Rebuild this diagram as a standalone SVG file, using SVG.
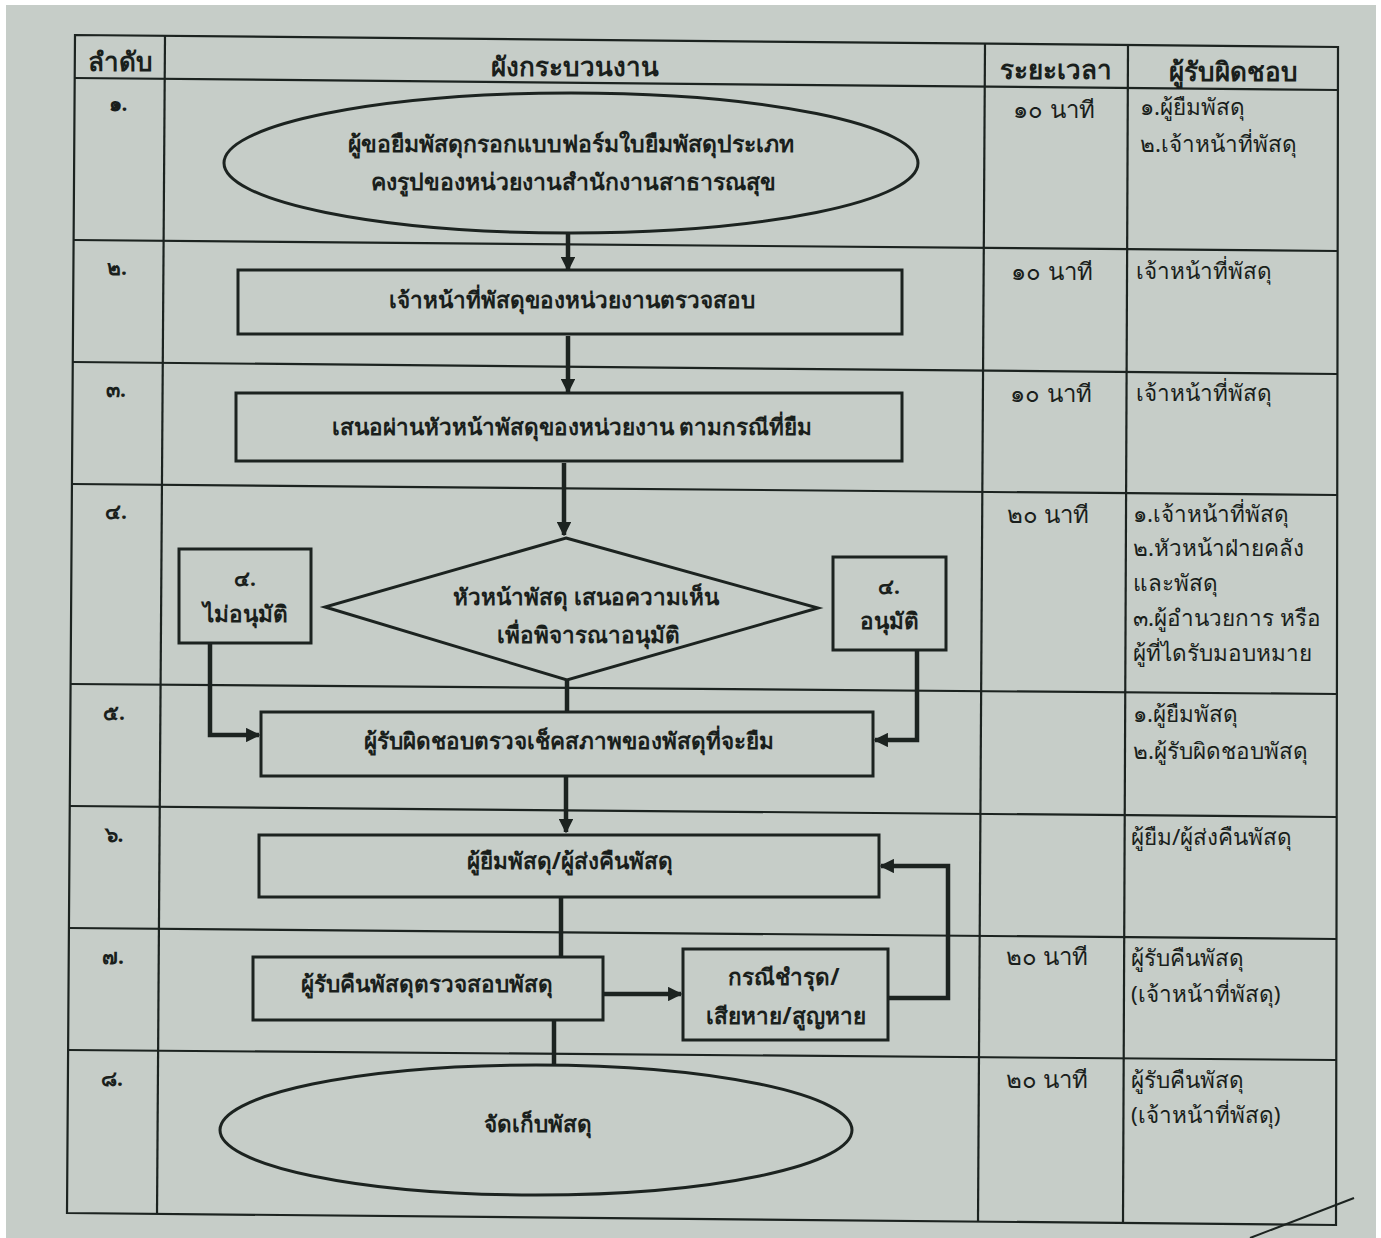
<svg xmlns="http://www.w3.org/2000/svg" width="1381" height="1238" viewBox="0 0 1381 1238">
<defs>
<style>
.tl{stroke:#1c2320;stroke-width:2.2;fill:none}
.bx{fill:none;stroke:#1c2320;stroke-width:3}
.cn{fill:none;stroke:#1c2320;stroke-width:4.5}
.t{font-family:"Noto Sans","DejaVu Sans",sans-serif;fill:#1a1f1c;font-weight:bold;font-size:22.5px;text-anchor:middle}
.te{font-family:"Noto Sans","DejaVu Sans",sans-serif;fill:#1a1f1c;font-weight:bold;font-size:23px;text-anchor:middle}
.h{font-family:"Noto Sans","DejaVu Sans",sans-serif;fill:#1a1f1c;font-weight:bold;font-size:26px;text-anchor:middle}
.n{font-family:"Noto Sans","DejaVu Sans",sans-serif;fill:#1a1f1c;font-weight:bold;font-size:21px;text-anchor:middle}
.r{font-family:"Noto Sans","DejaVu Sans",sans-serif;fill:#1a1f1c;font-size:22.5px}
.m{font-family:"Noto Sans","DejaVu Sans",sans-serif;fill:#1a1f1c;font-size:24px;text-anchor:middle}
</style>
<marker id="ah" viewBox="0 0 10 10" refX="9" refY="5" markerWidth="3.2" markerHeight="3.2" orient="auto" markerUnits="strokeWidth">
<path d="M0,0 L10,5 L0,10 z" fill="#1c2320"/>
</marker>
</defs>
<rect x="0" y="0" width="1381" height="1238" fill="#ffffff"/>
<rect x="6" y="5" width="1370" height="1233" fill="#c6cdc8"/>

<g id="table">
<polygon class="tl" points="75,35 1338,47 1336,1225 67,1213"/>
<line class="tl" x1="165" y1="36" x2="157" y2="1214"/>
<line class="tl" x1="985" y1="44" x2="978" y2="1221"/>
<line class="tl" x1="1128" y1="46" x2="1123" y2="1223"/>
<line class="tl" x1="75" y1="78" x2="1338" y2="90"/>
<line class="tl" x1="74" y1="240" x2="1338" y2="251"/>
<line class="tl" x1="73" y1="362" x2="1338" y2="374"/>
<line class="tl" x1="72" y1="484" x2="1337" y2="495"/>
<line class="tl" x1="71" y1="684" x2="1337" y2="694"/>
<line class="tl" x1="70" y1="806" x2="1337" y2="817"/>
<line class="tl" x1="69" y1="928" x2="1337" y2="939"/>
<line class="tl" x1="68" y1="1050" x2="1336" y2="1060"/>
<text class="h" x="120" y="71">ลำดับ</text>
<text class="h" x="575" y="76">ผังกระบวนงาน</text>
<text class="h" x="1056" y="79">ระยะเวลา</text>
<text class="h" x="1233" y="81">ผู้รับผิดชอบ</text>
<text class="n" x="118" y="111">๑.</text>
<text class="n" x="117" y="275">๒.</text>
<text class="n" x="116" y="397">๓.</text>
<text class="n" x="116" y="519">๔.</text>
<text class="n" x="114" y="720">๕.</text>
<text class="n" x="114" y="842">๖.</text>
<text class="n" x="113" y="964">๗.</text>
<text class="n" x="112" y="1086">๘.</text>
<text class="m" x="1054" y="118">๑๐ นาที</text>
<text class="m" x="1052" y="280">๑๐ นาที</text>
<text class="m" x="1051" y="402">๑๐ นาที</text>
<text class="m" x="1048" y="523">๒๐ นาที</text>
<text class="m" x="1047" y="965">๒๐ นาที</text>
<text class="m" x="1047" y="1088">๒๐ นาที</text>
<text class="r" x="1140" y="115">๑.ผู้ยืมพัสดุ</text>
<text class="r" x="1140" y="152">๒.เจ้าหน้าที่พัสดุ</text>
<text class="r" x="1136" y="279">เจ้าหน้าที่พัสดุ</text>
<text class="r" x="1136" y="401">เจ้าหน้าที่พัสดุ</text>
<text class="r" x="1133" y="522">๑.เจ้าหน้าที่พัสดุ</text>
<text class="r" x="1133" y="556">๒.หัวหน้าฝ่ายคลัง</text>
<text class="r" x="1133" y="591">และพัสดุ</text>
<text class="r" x="1133" y="626">๓.ผู้อำนวยการ หรือ</text>
<text class="r" x="1133" y="661">ผู้ที่ไดรับมอบหมาย</text>
<text class="r" x="1133" y="722">๑.ผู้ยืมพัสดุ</text>
<text class="r" x="1133" y="759">๒.ผู้รับผิดชอบพัสดุ</text>
<text class="r" x="1131" y="845">ผู้ยืม/ผู้ส่งคืนพัสดุ</text>
<text class="r" x="1131" y="966">ผู้รับคืนพัสดุ</text>
<text class="r" x="1131" y="1002">(เจ้าหน้าที่พัสดุ)</text>
<text class="r" x="1131" y="1088">ผู้รับคืนพัสดุ</text>
<text class="r" x="1131" y="1123">(เจ้าหน้าที่พัสดุ)</text>
<line x1="1250" y1="1238" x2="1354" y2="1198" stroke="#1c2320" stroke-width="2"/>
</g>

<g id="connectors">
<line class="cn" x1="568" y1="233" x2="568" y2="270" marker-end="url(#ah)"/>
<line class="cn" x1="568" y1="336" x2="568" y2="392" marker-end="url(#ah)"/>
<line class="cn" x1="564" y1="463" x2="564" y2="535" marker-end="url(#ah)"/>
<line class="cn" x1="567" y1="680" x2="567" y2="711"/>
<polyline class="cn" points="210,644 210,735 259,735" marker-end="url(#ah)"/>
<polyline class="cn" points="917,651 917,740 875,740" marker-end="url(#ah)"/>
<line class="cn" x1="566" y1="777" x2="566" y2="832" marker-end="url(#ah)"/>
<line class="cn" x1="561" y1="898" x2="561" y2="956"/>
<line class="cn" x1="604" y1="994" x2="681" y2="994" marker-end="url(#ah)"/>
<polyline class="cn" points="889,998 948,998 948,866 881,866" marker-end="url(#ah)"/>
<line class="cn" x1="554" y1="1021" x2="554" y2="1065"/>
</g>

<g id="n1">
<ellipse class="bx" cx="571" cy="163" rx="347" ry="70"/>
<text class="te" x="571" y="152">ผู้ขอยืมพัสดุกรอกแบบฟอร์มใบยืมพัสดุประเภท</text>
<text class="te" x="573" y="190">คงรูปของหน่วยงานสำนักงานสาธารณสุข</text>
</g>
<g id="n2">
<rect class="bx" x="238" y="270" width="664" height="64"/>
<text class="t" x="572" y="308">เจ้าหน้าที่พัสดุของหน่วยงานตรวจสอบ</text>
</g>
<g id="n3">
<rect class="bx" x="236" y="393" width="666" height="68"/>
<text class="t" x="572" y="435">เสนอผ่านหัวหน้าพัสดุของหน่วยงาน ตามกรณีที่ยืม</text>
</g>
<g id="n4">
<polygon class="bx" points="566,538 818,608 567,680 325,607"/>
<text class="t" x="586" y="605">หัวหน้าพัสดุ เสนอความเห็น</text>
<text class="t" x="588" y="643">เพื่อพิจารณาอนุมัติ</text>
</g>
<g id="n4no">
<rect class="bx" x="179" y="549" width="132" height="94"/>
<text class="n" x="245" y="586">๔.</text>
<text class="t" x="245" y="622">ไม่อนุมัติ</text>
</g>
<g id="n4yes">
<rect class="bx" x="833" y="557" width="113" height="93"/>
<text class="n" x="889" y="594">๔.</text>
<text class="t" x="889" y="629">อนุมัติ</text>
</g>
<g id="n5">
<rect class="bx" x="261" y="712" width="612" height="64"/>
<text class="t" x="569" y="749">ผู้รับผิดชอบตรวจเช็คสภาพของพัสดุที่จะยืม</text>
</g>
<g id="n6">
<rect class="bx" x="259" y="835" width="620" height="62"/>
<text class="t" x="570" y="869">ผู้ยืมพัสดุ/ผู้ส่งคืนพัสดุ</text>
</g>
<g id="n7">
<rect class="bx" x="253" y="957" width="350" height="63"/>
<text class="t" x="427" y="992">ผู้รับคืนพัสดุตรวจสอบพัสดุ</text>
</g>
<g id="n7b">
<rect class="bx" x="683" y="949" width="205" height="91"/>
<text class="t" x="784" y="985">กรณีชำรุด/</text>
<text class="t" x="786" y="1024">เสียหาย/สูญหาย</text>
</g>
<g id="n8">
<ellipse class="bx" cx="536" cy="1130" rx="316" ry="65"/>
<text class="t" x="538" y="1132">จัดเก็บพัสดุ</text>
</g>
</svg>
